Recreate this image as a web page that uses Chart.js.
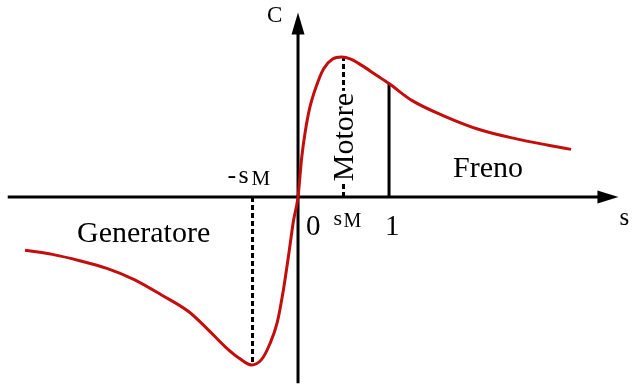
<!DOCTYPE html>
<html>
<head>
<meta charset="utf-8">
<script src="https://cdn.jsdelivr.net/npm/chart.js@4.4.1/dist/chart.umd.min.js"></script>
<style>
    html, body { margin: 0; padding: 0; background: #fff; }
    #wrap { width: 633px; height: 385px; position: relative; }
</style>
</head>
<body>
<div id="wrap"><canvas id="coppia"></canvas></div>
<script>
// Curva coppia-scorrimento
const slip = [-3.0, -2.7, -2.4, -2.1, -1.8, -1.5, -1.2, -1.0, -0.8, -0.65, -0.51, -0.4, -0.31, -0.23, -0.16, -0.1, -0.05, 0,
    0.04, 0.08, 0.13, 0.2, 0.28, 0.38, 0.48, 0.58, 0.7, 0.85, 1.0, 1.25, 1.6, 2.0, 2.4, 2.75, 3.0];
const torque = [-0.38, -0.41, -0.455, -0.51, -0.59, -0.7, -0.82, -0.94, -1.07, -1.15, -1.2, -1.16, -1.05, -0.9, -0.66, -0.4, -0.17, 0,
    0.28, 0.47, 0.64, 0.79, 0.915, 0.985, 1.0, 0.985, 0.94, 0.875, 0.81, 0.69, 0.58, 0.48, 0.415, 0.37, 0.34];

// Punti notevoli
const sM = 0.5;
const cMax = 1.0;
const cMin = -1.2;
const cAtOne = 0.81;

// Estensione degli assi
const sAxis = [-3.19, 3.51];
const cAxis = [-1.33, 1.31];

// Etichette
const regionLabels = ['Generatore', 'Motore', 'Freno'];
const axisLabels = ['s', 'C'];

const serif = "'Liberation Serif', 'Times New Roman', serif";

const curvePoints = slip.map((s, i) => ({ x: s, y: torque[i] }));

const segment = (a, b) => [a, b];

// Plugin per frecce e testi
const labelsPlugin = {
    id: 'labels',
    afterDatasetsDraw(chart) {
        const ctx = chart.ctx;
        const xs = chart.scales.x;
        const ys = chart.scales.y;
        const px = v => xs.getPixelForValue(v);
        const py = v => ys.getPixelForValue(v);
        const x0 = px(0), y0 = py(0);

        ctx.save();
        ctx.fillStyle = '#000';

        // frecce
        const xt = px(sAxis[1]);
        ctx.beginPath();
        ctx.moveTo(xt + 1, y0);
        ctx.lineTo(xt - 20, y0 - 6.5);
        ctx.lineTo(xt - 20, y0 + 6.5);
        ctx.closePath();
        ctx.fill();

        const yt = py(cAxis[1]);
        ctx.beginPath();
        ctx.moveTo(x0, yt - 1);
        ctx.lineTo(x0 - 6.5, yt + 21);
        ctx.lineTo(x0 + 6.5, yt + 21);
        ctx.closePath();
        ctx.fill();

        ctx.textBaseline = 'alphabetic';
        ctx.textAlign = 'left';

        // C
        ctx.font = '23px ' + serif;
        ctx.fillText(axisLabels[1], x0 - 31, 22);

        // s
        ctx.font = '25px ' + serif;
        ctx.fillText(axisLabels[0], xt + 2, y0 + 28);

        // 0 e 1
        ctx.font = '29px ' + serif;
        ctx.fillText('0', x0 + 8, y0 + 38);
        ctx.fillText('1', px(1) - 4, y0 + 38);

        // sM sotto l'asse
        ctx.font = '22px ' + serif;
        ctx.fillText('s', px(sM) - 10, y0 + 28);
        ctx.font = '20px ' + serif;
        ctx.fillText('M', px(sM) + 0, y0 + 30);

        // - sM sopra l'asse
        ctx.font = '26px ' + serif;
        ctx.fillText('-', px(-sM) - 25, y0 - 14);
        ctx.fillText('s', px(-sM) - 14, y0 - 14);
        ctx.font = '21px ' + serif;
        ctx.fillText('M', px(-sM) - 1, y0 - 12);

        // Generatore, Freno
        ctx.font = '30px ' + serif;
        ctx.fillText(regionLabels[0], 77, y0 + 45);
        ctx.fillText(regionLabels[2], 453, y0 - 20);

        // Motore (verticale)
        ctx.translate(px(sM) + 1, 137);
        ctx.rotate(-Math.PI / 2);
        const w = ctx.measureText(regionLabels[1]).width;
        ctx.fillStyle = '#fff';
        ctx.fillRect(-w / 2 - 2, -11, w + 4, 22);
        ctx.fillStyle = '#000';
        ctx.textAlign = 'center';
        ctx.textBaseline = 'middle';
        ctx.fillText(regionLabels[1], 0, 1);
        ctx.restore();
    }
};

const lineStyle = (color, width, dash) => ({
    borderColor: color,
    borderWidth: width,
    borderDash: dash || [],
    pointRadius: 0,
    fill: false,
    tension: 0
});

new Chart(document.getElementById('coppia'), {
    type: 'line',
    data: {
        datasets: [
            {
                data: curvePoints,
                borderColor: '#c40d0d',
                borderWidth: 3,
                pointRadius: 0,
                fill: false,
                cubicInterpolationMode: 'monotone'
            },
            { data: segment({ x: sAxis[0], y: 0 }, { x: sAxis[1] - 0.15, y: 0 }), ...lineStyle('#000', 3) },
            { data: segment({ x: 0, y: cAxis[0] }, { x: 0, y: cAxis[1] - 0.1 }), ...lineStyle('#000', 3) },
            { data: segment({ x: sM, y: 0 }, { x: sM, y: cMax }), ...lineStyle('#000', 3, [5, 3]) },
            { data: segment({ x: -sM, y: 0 }, { x: -sM, y: cMin }), ...lineStyle('#000', 3, [5, 3]) },
            { data: segment({ x: 1, y: 0 }, { x: 1, y: cAtOne }), ...lineStyle('#000', 3) }
        ]
    },
    options: {
        responsive: true,
        maintainAspectRatio: false,
        animation: false,
        devicePixelRatio: 1,
        layout: { padding: 0 },
        plugins: {
            legend: { display: false },
            tooltip: { enabled: false }
        },
        scales: {
            x: { type: 'linear', display: false, min: -3.275, max: 3.681 },
            y: { type: 'linear', display: false, min: -1.343, max: 1.407 }
        }
    },
    plugins: [labelsPlugin]
});
</script>
</body>
</html>
